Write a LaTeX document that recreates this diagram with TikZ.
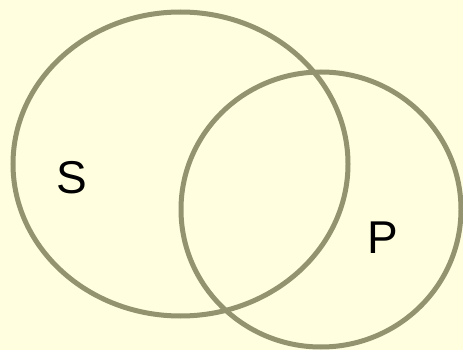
\documentclass[tikz,border=0pt]{standalone}
\usepackage{fontspec}
\setmainfont{Liberation Sans}
\usetikzlibrary{shapes.geometric}

\definecolor{bgyellow}{RGB}{255,255,224}
\definecolor{setline}{RGB}{147,147,112}

\begin{document}
\begin{tikzpicture}[
      x=1pt, y=-1pt,
      setring/.style={draw=setline, line width=5pt, ellipse, inner sep=0pt},
      setlabel/.style={font=\fontsize{46}{50}\selectfont, text=black}]
      \fill[bgyellow] (0,0) rectangle (463,350);
      \useasboundingbox (0,0) rectangle (463,350);
      \node[setring, minimum width=335pt, minimum height=304pt] (ringS) at (180.5,164) {};
      \node[setring, minimum width=280pt, minimum height=275pt] (ringP) at (321,209.5) {};
      \node[setlabel] (labS) at (71.5,178) {S};
      \node[setlabel] (labP) at (383,238) {P};
    \end{tikzpicture}
\end{document}
